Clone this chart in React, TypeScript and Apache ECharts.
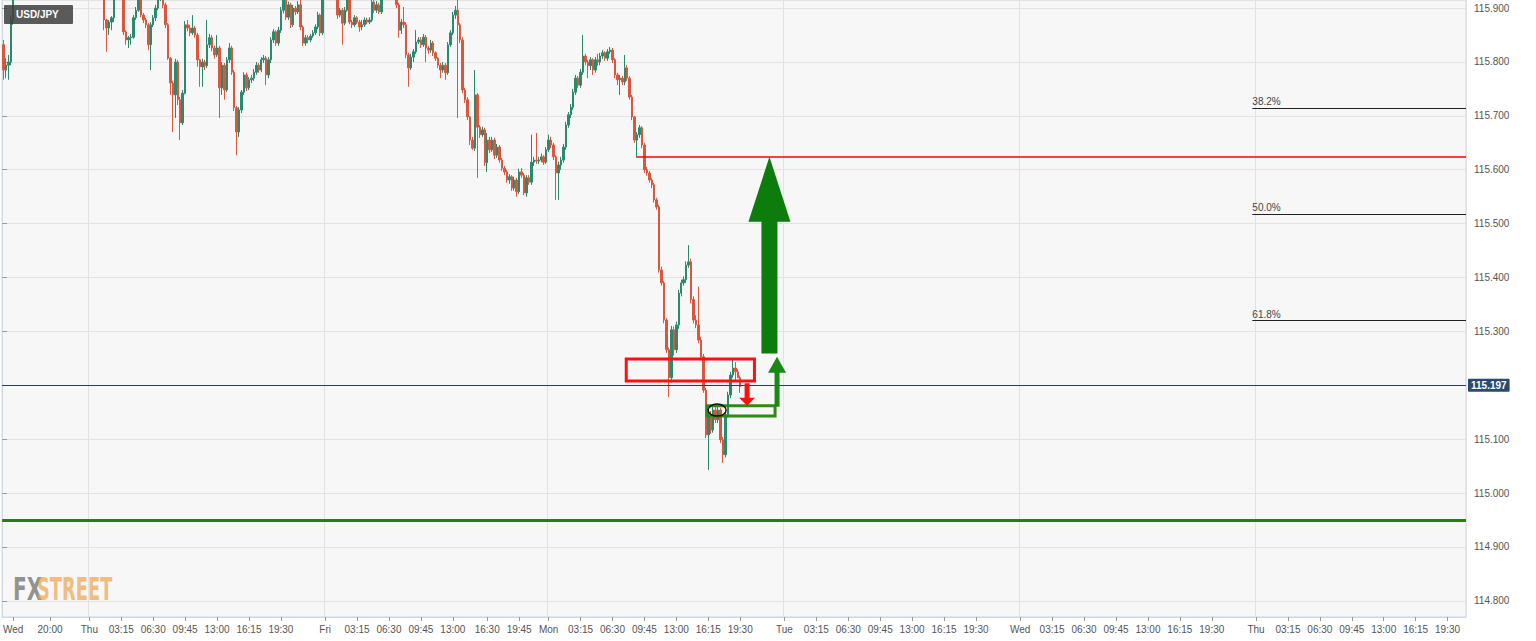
import React, { useEffect, useRef } from "react";
import * as echarts from "echarts";

// ---- time axis structure (15-minute slots) ----
const sessions = [
  { date: "02-09", day: "Wed", firstSlot: 61, count: 35 },
  { date: "02-10", day: "Thu", firstSlot: 0, count: 96 },
  { date: "02-11", day: "Fri", firstSlot: 0, count: 91 },
  { date: "02-14", day: "Mon", firstSlot: 0, count: 96 },
  { date: "02-15", day: "Tue", firstSlot: 0, count: 96 },
  { date: "02-16", day: "Wed", firstSlot: 0, count: 96 },
  { date: "02-17", day: "Thu", firstSlot: 0, count: 86 },
];
const dayTickTimes = ["03:15", "06:30", "09:45", "13:00", "16:15", "19:30"];
const fridayTickTimes = ["03:15", "06:30", "09:45", "13:00", "16:30", "19:45"];
const firstDayTicks: [string, string][] = [["16:15", "Wed"], ["20:00", "20:00"]];

// ---- USD/JPY 15-min candles ----
const firstOpen = 115.832;
const closes = [
  115.785, 115.794, 115.8, 115.878, 115.934, 115.952, 115.965, 115.978, 115.99, 115.984,
  115.996, 116.01, 116.004, 116.018, 116.025, 116.012, 116.02, 116.034, 116.028, 116.04,
  116.031, 116.022, 116.035, 116.046, 116.038, 116.027, 116.019, 116.03, 116.024, 116.011,
  116.003, 115.996, 116.008, 115.992, 115.985, 115.979, 115.97, 115.962, 115.968, 115.955,
  115.946, 115.878, 115.863, 115.874, 115.882, 115.924, 115.94, 115.948, 115.935, 115.856,
  115.841, 115.845, 115.846, 115.882, 115.896, 115.915, 115.887, 115.878, 115.869, 115.832,
  115.869, 115.882, 115.9, 115.919, 115.924, 115.906, 115.869, 115.807, 115.761, 115.739,
  115.8, 115.73, 115.687, 115.742, 115.869, 115.863, 115.854, 115.863, 115.85, 115.804,
  115.791, 115.8, 115.793, 115.832, 115.845, 115.826, 115.813, 115.826, 115.752, 115.794,
  115.748, 115.804, 115.826, 115.781, 115.715, 115.67, 115.711, 115.744, 115.776, 115.752,
  115.767, 115.77, 115.781, 115.794, 115.785, 115.804, 115.807, 115.776, 115.804, 115.841,
  115.856, 115.835, 115.859, 115.896, 115.924, 115.883, 115.906, 115.869, 115.9, 115.893,
  115.906, 115.865, 115.835, 115.845, 115.841, 115.848, 115.854, 115.865, 115.887, 115.854,
  115.924, 115.94, 115.955, 115.948, 115.942, 115.93, 115.887, 115.896, 115.872, 115.896,
  115.915, 115.874, 115.869, 115.882, 115.874, 115.865, 115.869, 115.878, 115.874, 115.878,
  115.911, 115.896, 115.906, 115.893, 115.924, 115.938, 115.952, 115.96, 115.948, 115.932,
  115.906, 115.859, 115.874, 115.869, 115.813, 115.789, 115.809, 115.819, 115.837, 115.841,
  115.832, 115.846, 115.826, 115.822, 115.835, 115.817, 115.807, 115.794, 115.785, 115.794,
  115.78, 115.832, 115.854, 115.887, 115.896, 115.869, 115.841, 115.748, 115.73, 115.698,
  115.655, 115.64, 115.739, 115.679, 115.665, 115.674, 115.613, 115.655, 115.637, 115.655,
  115.627, 115.642, 115.618, 115.603, 115.596, 115.581, 115.587, 115.566, 115.581, 115.559,
  115.596, 115.59, 115.557, 115.585, 115.577, 115.614, 115.618, 115.616, 115.618, 115.624,
  115.614, 115.637, 115.655, 115.646, 115.624, 115.594, 115.609, 115.618, 115.642, 115.683,
  115.702, 115.716, 115.744, 115.77, 115.757, 115.781, 115.811, 115.8, 115.793, 115.804,
  115.785, 115.804, 115.8, 115.811, 115.817, 115.807, 115.819, 115.822, 115.804, 115.776,
  115.767, 115.77, 115.763, 115.789, 115.77, 115.735, 115.698, 115.655, 115.665, 115.678,
  115.646, 115.6, 115.594, 115.581, 115.572, 115.544, 115.531, 115.414, 115.39, 115.321,
  115.266, 115.214, 115.303, 115.266, 115.312, 115.371, 115.39, 115.396, 115.423, 115.429,
  115.359, 115.321, 115.312, 115.284, 115.253, 115.191, 115.108, 115.145, 115.117, 115.154,
  115.136, 115.154, 115.099, 115.071, 115.145, 115.182, 115.219, 115.232, 115.225, 115.214,
  115.197,
];
const highs = [
  115.841, 115.807, 115.813, 115.887, 115.952, 115.971, 115.975, 115.985, 115.998, 115.995,
  116.004, 116.018, 116.015, 116.026, 116.034, 116.028, 116.03, 116.042, 116.038, 116.05,
  116.044, 116.033, 116.043, 116.055, 116.049, 116.04, 116.03, 116.038, 116.035, 116.026,
  116.014, 116.006, 116.016, 116.01, 115.996, 115.99, 115.981, 115.974, 115.976, 115.971,
  115.96, 115.95, 115.88, 115.878, 115.885, 115.932, 115.952, 115.96, 115.952, 115.94,
  115.859, 115.848, 115.852, 115.887, 115.902, 115.934, 115.92, 115.891, 115.882, 115.872,
  115.874, 115.887, 115.906, 115.926, 115.943, 115.93, 115.91, 115.872, 115.809, 115.765,
  115.806, 115.804, 115.735, 115.748, 115.876, 115.878, 115.869, 115.887, 115.867, 115.854,
  115.806, 115.806, 115.804, 115.878, 115.852, 115.85, 115.83, 115.85, 115.83, 115.8,
  115.798, 115.809, 115.835, 115.83, 115.785, 115.718, 115.716, 115.748, 115.781, 115.78,
  115.772, 115.776, 115.787, 115.8, 115.798, 115.809, 115.813, 115.811, 115.809, 115.846,
  115.861, 115.859, 115.865, 115.902, 115.935, 115.93, 115.912, 115.91, 115.906, 115.904,
  115.913, 115.917, 115.868, 115.85, 115.85, 115.852, 115.859, 115.87, 115.893, 115.89,
  115.935, 115.952, 115.965, 115.962, 115.955, 115.948, 115.935, 115.9, 115.9, 115.902,
  115.928, 115.92, 115.878, 115.887, 115.885, 115.878, 115.878, 115.883, 115.882, 115.883,
  115.918, 115.915, 115.913, 115.91, 115.935, 115.95, 115.963, 115.972, 115.965, 115.952,
  115.938, 115.91, 115.88, 115.902, 115.874, 115.817, 115.815, 115.824, 115.859, 115.846,
  115.846, 115.852, 115.85, 115.83, 115.841, 115.839, 115.82, 115.809, 115.798, 115.8,
  115.798, 115.837, 115.859, 115.893, 115.904, 115.945, 115.872, 115.846, 115.752, 115.735,
  115.7, 115.661, 115.785, 115.742, 115.683, 115.68, 115.678, 115.668, 115.661, 115.661,
  115.659, 115.648, 115.646, 115.622, 115.607, 115.6, 115.592, 115.59, 115.587, 115.585,
  115.602, 115.603, 115.594, 115.59, 115.59, 115.665, 115.624, 115.668, 115.624, 115.63,
  115.627, 115.642, 115.665, 115.661, 115.65, 115.627, 115.615, 115.624, 115.648, 115.689,
  115.707, 115.722, 115.75, 115.776, 115.774, 115.787, 115.85, 115.815, 115.804, 115.809,
  115.807, 115.809, 115.815, 115.817, 115.822, 115.82, 115.824, 115.828, 115.826, 115.807,
  115.78, 115.776, 115.774, 115.813, 115.794, 115.774, 115.739, 115.7, 115.67, 115.683,
  115.681, 115.65, 115.605, 115.598, 115.585, 115.576, 115.548, 115.535, 115.42, 115.394,
  115.325, 115.27, 115.31, 115.309, 115.318, 115.377, 115.396, 115.402, 115.43, 115.46,
  115.435, 115.365, 115.33, 115.383, 115.29, 115.258, 115.195, 115.151, 115.152, 115.16,
  115.16, 115.16, 115.158, 115.104, 115.151, 115.188, 115.225, 115.247, 115.243, 115.23,
  115.218,
];
const lows = [
  115.767, 115.77, 115.767, 115.794, 115.869, 115.924, 115.945, 115.958, 115.97, 115.976,
  115.978, 115.99, 115.996, 115.998, 116.012, 116.004, 116.008, 116.014, 116.02, 116.022,
  116.024, 116.014, 116.016, 116.028, 116.03, 116.02, 116.01, 116.012, 116.016, 116.003,
  115.995, 115.985, 115.99, 115.984, 115.976, 115.97, 115.96, 115.952, 115.955, 115.945,
  115.936, 115.859, 115.819, 115.85, 115.859, 115.874, 115.92, 115.93, 115.925, 115.85,
  115.832, 115.826, 115.832, 115.843, 115.878, 115.893, 115.883, 115.872, 115.863, 115.822,
  115.785, 115.865, 115.876, 115.896, 115.913, 115.9, 115.863, 115.804, 115.739, 115.67,
  115.696, 115.72, 115.655, 115.683, 115.74, 115.857, 115.848, 115.85, 115.845, 115.791,
  115.754, 115.754, 115.785, 115.789, 115.826, 115.82, 115.806, 115.809, 115.696, 115.739,
  115.73, 115.744, 115.798, 115.776, 115.709, 115.627, 115.661, 115.705, 115.739, 115.746,
  115.748, 115.761, 115.765, 115.776, 115.78, 115.781, 115.798, 115.757, 115.77, 115.798,
  115.835, 115.83, 115.83, 115.854, 115.89, 115.878, 115.878, 115.863, 115.865, 115.887,
  115.889, 115.859, 115.83, 115.83, 115.835, 115.837, 115.845, 115.85, 115.861, 115.848,
  115.85, 115.92, 115.935, 115.938, 115.932, 115.924, 115.88, 115.883, 115.832, 115.868,
  115.893, 115.87, 115.863, 115.865, 115.87, 115.856, 115.859, 115.865, 115.87, 115.87,
  115.874, 115.891, 115.891, 115.889, 115.889, 115.92, 115.93, 115.945, 115.94, 115.925,
  115.9, 115.845, 115.852, 115.863, 115.807, 115.754, 115.785, 115.8, 115.815, 115.833,
  115.826, 115.828, 115.8, 115.815, 115.817, 115.811, 115.802, 115.789, 115.77, 115.78,
  115.767, 115.776, 115.828, 115.85, 115.88, 115.696, 115.835, 115.742, 115.724, 115.692,
  115.646, 115.637, 115.635, 115.585, 115.659, 115.661, 115.607, 115.596, 115.631, 115.633,
  115.62, 115.622, 115.613, 115.598, 115.59, 115.576, 115.574, 115.561, 115.561, 115.55,
  115.555, 115.585, 115.553, 115.55, 115.572, 115.572, 115.607, 115.611, 115.611, 115.614,
  115.609, 115.611, 115.633, 115.64, 115.618, 115.544, 115.544, 115.6, 115.613, 115.637,
  115.678, 115.696, 115.711, 115.739, 115.752, 115.752, 115.776, 115.794, 115.77, 115.785,
  115.776, 115.78, 115.793, 115.794, 115.806, 115.802, 115.802, 115.815, 115.798, 115.77,
  115.757, 115.739, 115.757, 115.757, 115.765, 115.73, 115.692, 115.65, 115.624, 115.659,
  115.64, 115.594, 115.589, 115.576, 115.566, 115.539, 115.526, 115.409, 115.385, 115.315,
  115.26, 115.178, 115.205, 115.255, 115.26, 115.305, 115.365, 115.385, 115.39, 115.418,
  115.352, 115.315, 115.306, 115.278, 115.248, 115.186, 115.102, 115.043, 115.11, 115.112,
  115.13, 115.13, 115.093, 115.056, 115.066, 115.14, 115.176, 115.214, 115.208, 115.22,
  115.186,
];

// ---- levels ----
const currentPrice = 115.197;
const supportLevel = 114.95;
const targetLevel = 115.624;
const fibLevels = [
  { label: "38.2%", value: 115.715 },
  { label: "50.0%", value: 115.518 },
  { label: "61.8%", value: 115.321 },
];
const yMin = 114.77;
const yMax = 115.915;

// ---- annotation anchors (slot units on a hidden value axis, price on y) ----
const targetLineStart = 258.2;
const fibLineStart = 509.0;
const redZone = { x1: 254.1, x2: 306.3, top: 115.249, bottom: 115.208 };
const greenZone = { x1: 287.0, x2: 314.7, top: 115.162, bottom: 115.143 };
const ellipseAt = { x: 291.1, y: 115.154 };
const redArrow = { x: 303.3, from: 115.204, to: 115.162 };
const smallGreenArrow = { x: 315.5, from: 115.16, to: 115.253 };
const bigGreenArrow = { x: 312.4, from: 115.259, to: 115.624 };

const SANS = "'Liberation Sans', Arial, sans-serif";
const COND = "'DejaVu Sans Condensed', 'Liberation Sans', sans-serif";

function pad(n: number) {
  return n < 10 ? "0" + n : "" + n;
}

export default function App() {
  const ref = useRef<HTMLDivElement>(null);

  useEffect(() => {
    if (!ref.current) return;
    const chart = echarts.init(ref.current, null, { renderer: "svg" });

    const categories: string[] = [];
    const dayStarts = new Set<number>();
    sessions.forEach((s) => {
      for (let k = 0; k < s.count; k++) {
        const slot = s.firstSlot + k;
        if (slot === 0) dayStarts.add(categories.length);
        categories.push(`${s.date} ${pad(Math.floor(slot / 4))}:${pad((slot % 4) * 15)}`);
      }
    });

    const tickMap = new Map<string, string>();
    firstDayTicks.forEach(([t, l]) => tickMap.set(`${sessions[0].date} ${t}`, l));
    sessions.slice(1).forEach((s) => {
      tickMap.set(`${s.date} 00:00`, s.day);
      const times = s.day === "Fri" ? fridayTickTimes : dayTickTimes;
      times.forEach((t) => tickMap.set(`${s.date} ${t}`, t));
    });
    const tickIdx = new Set<number>();
    categories.forEach((c, i) => {
      if (tickMap.has(c)) tickIdx.add(i);
    });

    const candleData = closes.map((c, i) => [
      i === 0 ? firstOpen : closes[i - 1],
      c,
      lows[i],
      highs[i],
    ]);

    const nSlots = categories.length;

    const renderItem = (params: any, api: any) => {
      const c = (x: number, y: number) => api.coord([x, y]);
      const rectOf = (x1: number, y1: number, x2: number, y2: number) => {
        const a = c(x1, y1);
        const b = c(x2, y2);
        return {
          x: Math.min(a[0], b[0]),
          y: Math.min(a[1], b[1]),
          width: Math.abs(b[0] - a[0]),
          height: Math.abs(b[1] - a[1]),
        };
      };
      const arrow = (xv: number, fromV: number, toV: number, shaftW: number, headW: number, headH: number) => {
        const base = c(xv, fromV);
        const tip = c(xv, toV);
        const dir = tip[1] < base[1] ? 1 : -1; // 1 = up
        const x = base[0];
        const hb = tip[1] + dir * headH;
        return [
          [x - shaftW / 2, base[1]],
          [x - shaftW / 2, hb],
          [x - headW / 2, hb],
          [x, tip[1]],
          [x + headW / 2, hb],
          [x + shaftW / 2, hb],
          [x + shaftW / 2, base[1]],
        ];
      };
      const ec = c(ellipseAt.x, ellipseAt.y);
      return {
        type: "group",
        children: [
          {
            type: "rect",
            shape: rectOf(redZone.x1, redZone.top, redZone.x2, redZone.bottom),
            style: { fill: "none", stroke: "#ff1010", lineWidth: 3 },
          },
          {
            type: "rect",
            shape: rectOf(greenZone.x1, greenZone.top, greenZone.x2, greenZone.bottom),
            style: { fill: "none", stroke: "#2f8a14", lineWidth: 3 },
          },
          {
            type: "polygon",
            shape: { points: arrow(smallGreenArrow.x, smallGreenArrow.from, smallGreenArrow.to, 5, 18, 16) },
            style: { fill: "#168a12" },
          },
          {
            type: "polygon",
            shape: { points: arrow(bigGreenArrow.x, bigGreenArrow.from, bigGreenArrow.to, 16, 42, 65) },
            style: { fill: "#0c7d0c" },
          },
          {
            type: "polygon",
            shape: { points: arrow(redArrow.x, redArrow.from, redArrow.to, 5, 16, 8) },
            style: { fill: "#ff1010" },
          },
          {
            type: "ellipse",
            shape: { cx: ec[0], cy: ec[1], rx: 9, ry: 6 },
            style: { fill: "none", stroke: "#111", lineWidth: 1.5 },
          },
        ],
      };
    };

    const option: any = {
      animation: false,
      backgroundColor: "#ffffff",
      grid: {
        left: 0,
        top: 0,
        width: 1466,
        height: 617,
        show: true,
        backgroundColor: "#f7f7f7",
        borderColor: "#cfd7e4",
        borderWidth: 1,
      },
      xAxis: [
        {
          type: "category",
          data: categories,
          boundaryGap: true,
          axisLine: { show: true, lineStyle: { color: "#cfd7e4" } },
          axisTick: {
            show: true,
            alignWithLabel: true,
            interval: (i: number) => tickIdx.has(i),
            length: 4,
            lineStyle: { color: "#999" },
          },
          axisLabel: {
            interval: (i: number) => tickIdx.has(i),
            formatter: (v: string) => tickMap.get(v) || "",
            color: "#555",
            fontSize: 10,
            fontFamily: SANS,
            margin: 7,
          },
          splitLine: {
            show: true,
            interval: (i: number) => dayStarts.has(i),
            lineStyle: { color: "#e2e2e2", width: 1 },
          },
        },
        { type: "value", min: 0, max: nSlots, show: false },
      ],
      yAxis: {
        type: "value",
        position: "right",
        min: yMin,
        max: yMax,
        minInterval: 0.1,
        maxInterval: 0.1,
        splitNumber: 11,
        axisLine: { show: true, lineStyle: { color: "#cfd7e4" } },
        axisTick: { show: true, length: 5, lineStyle: { color: "#999" } },
        axisLabel: {
          showMinLabel: false,
          showMaxLabel: false,
          formatter: (v: number) => (Math.abs(v - currentPrice) < 0.02 ? "" : v.toFixed(3)),
          color: "#555",
          fontSize: 10,
          fontFamily: SANS,
          margin: 8,
        },
        splitLine: { show: true, lineStyle: { color: "#e2e2e2" } },
      },
      graphic: [
        {
          type: "rect",
          left: 4,
          top: 5,
          shape: { width: 69, height: 19, r: 1 },
          style: { fill: "rgba(62,62,62,0.85)" },
          z: 100,
        },
        {
          type: "text",
          x: 16,
          y: 14.5,
          style: {
            text: "USD/JPY",
            fill: "#ffffff",
            font: `bold 10px ${SANS}`,
            verticalAlign: "middle",
          },
          z: 101,
        },
        {
          type: "text",
          x: 13,
          y: 589,
          scaleX: 0.7,
          style: {
            text: "FX",
            fill: "rgba(128,128,128,0.85)",
            font: `bold 32px ${COND}`,
            verticalAlign: "middle",
          },
          z: 1,
        },
        {
          type: "text",
          x: 37,
          y: 589,
          scaleX: 0.62,
          style: {
            text: "STREET",
            fill: "rgba(240,172,92,0.8)",
            font: `bold 32px ${COND}`,
            verticalAlign: "middle",
          },
          z: 1,
        },
      ],
      series: [
        {
          type: "candlestick",
          data: candleData,
          barWidth: "80%",
          clip: true,
          itemStyle: {
            color: "#2a8a6e",
            color0: "#db563c",
            borderColor: "#2a8a6e",
            borderColor0: "#db563c",
            borderWidth: 1,
          },
          markLine: {
            silent: true,
            symbol: ["none", "none"],
            animation: false,
            data: [
              {
                yAxis: currentPrice,
                lineStyle: { color: "#2c3e55", width: 1, type: "solid" },
                label: {
                  show: true,
                  position: "end",
                  formatter: currentPrice.toFixed(3),
                  backgroundColor: "#2b4a6f",
                  color: "#ffffff",
                  fontWeight: "bold",
                  fontSize: 10,
                  fontFamily: SANS,
                  padding: [2, 3, 1, 3],
                  borderRadius: 1,
                  distance: 2,
                },
              },
              {
                yAxis: supportLevel,
                lineStyle: { color: "#2c7a12", width: 3, type: "solid" },
                label: { show: false },
              },
            ],
          },
        },
        {
          type: "custom",
          xAxisIndex: 1,
          yAxisIndex: 0,
          data: [[0, currentPrice]],
          silent: true,
          clip: false,
          z: 6,
          renderItem,
          markLine: {
            silent: true,
            symbol: ["none", "none"],
            animation: false,
            data: [
              [
                { coord: [targetLineStart, targetLevel], lineStyle: { color: "#ff0000", width: 1.5, type: "solid" }, label: { show: false } },
                { coord: [nSlots, targetLevel] },
              ],
              ...fibLevels.map((f) => [
                {
                  coord: [fibLineStart, f.value],
                  lineStyle: { color: "#222", width: 1, type: "solid" },
                  label: {
                    show: true,
                    position: "insideStartTop",
                    formatter: f.label,
                    color: "#444",
                    fontSize: 10,
                    fontFamily: SANS,
                    distance: [0, 1],
                  },
                },
                { coord: [nSlots, f.value] },
              ]),
            ],
          },
        },
      ],
    };

    chart.setOption(option);
    return () => chart.dispose();
  }, []);

  return (
    <div
      ref={ref}
      style={{ position: "fixed", left: 0, top: 0, width: 1536, height: 641, background: "#fff" }}
    />
  );
}
